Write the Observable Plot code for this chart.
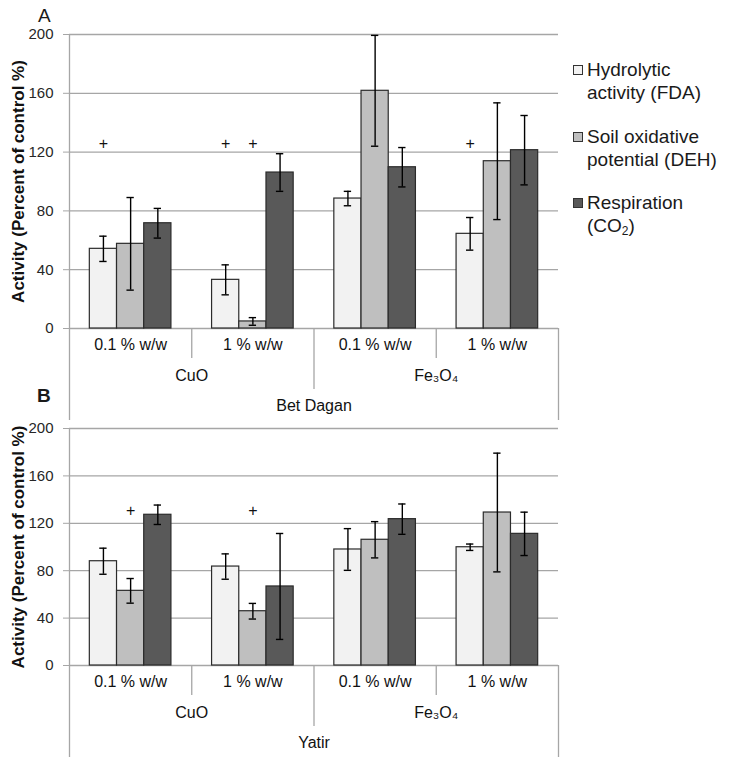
<!DOCTYPE html>
<html><head><meta charset="utf-8">
<script src="https://cdn.jsdelivr.net/npm/d3@7"></script>
<script src="https://cdn.jsdelivr.net/npm/@observablehq/plot@0.6"></script>
<style>
body{margin:0;background:#fff;}
#wrap{position:relative;width:729px;height:765px;font-family:"Liberation Sans",Arial,sans-serif;color:#1a1a1a;overflow:hidden;}
.panel{position:absolute;left:0;}
.plab{position:absolute;font-size:19px;line-height:19px;}
.leg{position:absolute;left:573px;font-size:19px;line-height:23px;}
.sw{position:absolute;left:0;top:7px;width:8px;height:8px;border:1px solid #333;}
.lt{margin-left:14px;white-space:nowrap;}
sub{font-size:12px;vertical-align:-3px;line-height:0;}
svg [aria-label="y-axis"] line, svg [aria-label="y-axis tick"] path{stroke:#a6a6a6;}
</style>
</head><body>
<div id="wrap">
  <div id="pa" class="panel" style="top:0"></div>
  <div id="pb" class="panel" style="top:380px"></div>
  <div class="plab" style="left:38px;top:6px;">A</div>
  <div class="plab" style="left:37px;top:386px;font-weight:bold;">B</div>
  <div class="leg" style="top:58px"><div class="sw" style="background:#f2f2f2"></div><div class="lt">Hydrolytic<br>activity (FDA)</div></div>
  <div class="leg" style="top:125px"><div class="sw" style="background:#bfbfbf"></div><div class="lt">Soil oxidative<br>potential (DEH)</div></div>
  <div class="leg" style="top:191px"><div class="sw" style="background:#595959"></div><div class="lt">Respiration<br>(CO<sub>2</sub>)</div></div>
</div>
<script>
// ---- data ----
const materials = ["CuO", "Fe₃O₄"];
const concentrations = ["0.1 % w/w", "1 % w/w"];
const series = ["Hydrolytic activity (FDA)", "Soil oxidative potential (DEH)", "Respiration (CO₂)"];
const sites = ["Bet Dagan", "Yatir"];
const yTicks = [0, 40, 80, 120, 160, 200];
const yTitle = "Activity (Percent of control %)";

// group order: CuO 0.1, CuO 1, Fe3O4 0.1, Fe3O4 1
const betDaganFDA = [54.2, 33.1, 88.4, 64.4];
const betDaganFDAErr = [8.6, 10.2, 4.9, 11.1];
const betDaganDEH = [57.6, 4.8, 161.7, 113.8];
const betDaganDEHErr = [31.5, 2.6, 37.7, 39.7];
const betDaganCO2 = [71.6, 106.1, 109.7, 121.3];
const betDaganCO2Err = [10.1, 12.8, 13.4, 23.6];

const yatirFDA = [88.0, 83.5, 97.9, 99.8];
const yatirFDAErr = [11.0, 10.7, 17.6, 2.7];
const yatirDEH = [63.0, 45.8, 106.1, 129.1];
const yatirDEHErr = [10.4, 6.6, 15.3, 50.1];
const yatirCO2 = [127.2, 66.7, 123.5, 111.1];
const yatirCO2Err = [8.2, 44.7, 12.8, 18.3];

// "+" markers: [group index, series index]
const betDaganSig = [[0, 0], [1, 0], [1, 1], [3, 0]];
const yatirSig = [[0, 1], [1, 1]];
const betDaganSigLevel = 125.5;
const yatirSigLevel = 130.5;

// ---- layout constants (scale units) ----
const BW = 0.2225;            // bar width as fraction of a group
const PAD = (1 - 3 * BW) / 2; // outer padding in a group
const CAP = 0.03;             // error cap half width
const colors = ["#f2f2f2", "#bfbfbf", "#595959"];

function panel({site, fda, fdaErr, deh, dehErr, co2, co2Err, sig, sigLevel, height, marginTop, marginBottom}) {
  const vals = [fda, deh, co2], errs = [fdaErr, dehErr, co2Err];
  const groups = [];
  materials.forEach((m, mi) => concentrations.forEach((c, ci) => groups.push({material: m, conc: c, g: mi * 2 + ci})));
  const bars = [];
  groups.forEach(gr => series.forEach((s, si) => {
    const x1 = gr.g + PAD + si * BW;
    const v = vals[si][gr.g], e = errs[si][gr.g];
    bars.push({series: s, x1, x2: x1 + BW, cx: x1 + BW / 2, value: v, lo: v - e, hi: v + e});
  }));
  const sigs = sig.map(([g, s]) => ({cx: g + PAD + s * BW + BW / 2, y: sigLevel}));
  const mats = materials.map((m, mi) => ({m, x: mi * 2 + 1}));
  const axisStroke = "#a6a6a6";
  return Plot.plot({
    width: 729, height, marginTop, marginBottom, marginLeft: 69, marginRight: 171,
    style: {fontFamily: "Liberation Sans, Arial, sans-serif", fontSize: "15px", color: "#262626", background: "transparent", overflow: "visible"},
    x: {domain: [0, 4], axis: null},
    y: {domain: [0, 200], ticks: yTicks, tickSize: 6, tickPadding: 10, label: null},
    color: {domain: series, range: colors},
    marks: [
      Plot.ruleY(yTicks, {stroke: axisStroke, strokeWidth: 1.3}),
      Plot.rectY(bars, {x1: "x1", x2: "x2", y: "value", fill: "series", stroke: "#2b2b2b", strokeWidth: 1.2}),
      Plot.ruleX(bars, {x: "cx", y1: "lo", y2: "hi", stroke: "#000", strokeWidth: 1.4}),
      Plot.ruleY(bars, {x1: d => d.cx - CAP, x2: d => d.cx + CAP, y: "hi", stroke: "#000", strokeWidth: 1.4}),
      Plot.ruleY(bars, {x1: d => d.cx - CAP, x2: d => d.cx + CAP, y: "lo", stroke: "#000", strokeWidth: 1.4}),
      Plot.ruleX([0], {y1: 200, y2: 0, insetBottom: -92, stroke: axisStroke, strokeWidth: 1.3}),
      Plot.ruleX([4], {y1: 0, y2: 0, insetBottom: -92, stroke: axisStroke, strokeWidth: 1.3}),
      Plot.ruleX([2], {y1: 0, y2: 0, insetBottom: -61, stroke: axisStroke, strokeWidth: 1.3}),
      Plot.ruleX([1, 3], {y1: 0, y2: 0, insetBottom: -30, stroke: axisStroke, strokeWidth: 1.3}),
      Plot.text(groups, {x: d => d.g + 0.5, text: "conc", frameAnchor: "bottom", dy: 21, fontSize: 16, fill: "#111"}),
      Plot.text(mats, {x: "x", text: "m", frameAnchor: "bottom", dy: 52, fontSize: 16, fill: "#111"}),
      Plot.text([site], {x: () => 2, text: d => d, frameAnchor: "bottom", dy: 82, fontSize: 16, fill: "#111"}),
      Plot.text(sigs, {x: "cx", y: "y", text: () => "+", fontSize: 16, fill: "#111"}),
      Plot.text([yTitle], {frameAnchor: "left", textAnchor: "middle", text: d => d, rotate: -90, dx: -51, fontWeight: "bold", fontSize: 17, fill: "#111"})
    ]
  });
}

document.getElementById("pa").appendChild(panel({
  site: sites[0], fda: betDaganFDA, fdaErr: betDaganFDAErr, deh: betDaganDEH, dehErr: betDaganDEHErr,
  co2: betDaganCO2, co2Err: betDaganCO2Err, sig: betDaganSig, sigLevel: betDaganSigLevel,
  height: 425, marginTop: 34, marginBottom: 97
}));
document.getElementById("pb").appendChild(panel({
  site: sites[1], fda: yatirFDA, fdaErr: yatirFDAErr, deh: yatirDEH, dehErr: yatirDEHErr,
  co2: yatirCO2, co2Err: yatirCO2Err, sig: yatirSig, sigLevel: yatirSigLevel,
  height: 385, marginTop: 48, marginBottom: 100
}));
</script>
</body></html>
